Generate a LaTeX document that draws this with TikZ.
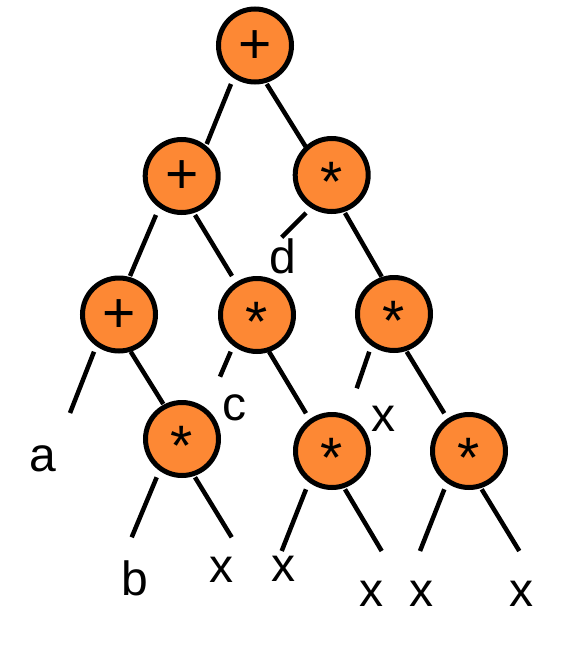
\documentclass[tikz,border=0pt]{standalone}
\usepackage{fontspec}
\setmainfont{Liberation Sans}
\definecolor{nodeorange}{RGB}{253,136,52}
\tikzset{
  opnode/.style={circle, draw=black, line width=5pt, fill=nodeorange, minimum size=73pt, inner sep=0pt,
    font=\fontsize{57pt}{57pt}\selectfont, text depth=0pt},
  plusnode/.style={opnode, text height=35pt},
  starnode/.style={opnode, text height=52pt},
  leaflabel/.style={anchor=base, inner sep=0pt, font=\fontsize{48pt}{48pt}\selectfont},
  edge/.style={line width=4.5pt}
}
\begin{document}
\begin{tikzpicture}[x=1pt,y=-1pt]
\useasboundingbox (0,0) rectangle (564,648);
% operator nodes
\node[plusnode] (n1) at (255,45.5) {+};
\node[plusnode] (n2) at (181.7,176) {+};
\node[starnode] (n3) at (331.7,175) {*};
\node[plusnode] (n4) at (119,314.5) {+};
\node[starnode] (n5) at (257,315) {*};
\node[starnode] (n6) at (394,314) {*};
\node[starnode] (n7) at (182,439) {*};
\node[starnode] (n8) at (332,451) {*};
\node[starnode] (n9) at (469,451) {*};
% leaf labels
\node[leaflabel] (la) at (43.3,471) {a};
\node[leaflabel] (lb) at (135.3,595) {b};
\node[leaflabel] (lx1) at (221.7,582.7) {x};
\node[leaflabel] (lc) at (234,420) {c};
\node[leaflabel] (ld) at (282.5,273.3) {d};
\node[leaflabel] (lx2) at (383.8,431.7) {x};
\node[leaflabel] (lx3) at (283.3,581.7) {x};
\node[leaflabel] (lx4) at (371.3,606.7) {x};
\node[leaflabel] (lx5) at (421.2,606.7) {x};
\node[leaflabel] (lx6) at (521.3,606.7) {x};
% connector end points
\coordinate (e1a) at (231,84);      \coordinate (e1b) at (206.7,144);
\coordinate (e2a) at (266.7,84);    \coordinate (e2b) at (305.7,146.7);
\coordinate (e3a) at (156,215);     \coordinate (e3b) at (130,276);
\coordinate (e4a) at (195,215);     \coordinate (e4b) at (232,276);
\coordinate (e5a) at (306,213);     \coordinate (e5b) at (281.7,237.3);
\coordinate (e6a) at (345,213);     \coordinate (e6b) at (381.7,276.7);
\coordinate (e7a) at (94,351.7);    \coordinate (e7b) at (70,413);
\coordinate (e8a) at (130.7,351.7); \coordinate (e8b) at (163.3,404);
\coordinate (e9a) at (230.7,351.7); \coordinate (e9b) at (220,376.7);
\coordinate (e10a) at (269,351.7);  \coordinate (e10b) at (306,413.3);
\coordinate (e11a) at (369.3,351.7);\coordinate (e11b) at (356.7,388.3);
\coordinate (e12a) at (406.7,351.7);\coordinate (e12b) at (444.3,413.3);
\coordinate (e13a) at (156.7,477.3);\coordinate (e13b) at (131.7,537.3);
\coordinate (e14a) at (195,477.3);  \coordinate (e14b) at (231.7,537.3);
\coordinate (e15a) at (306,489.3);  \coordinate (e15b) at (281.7,551);
\coordinate (e16a) at (345,489.3);  \coordinate (e16b) at (381.7,551);
\coordinate (e17a) at (444.3,489.3);\coordinate (e17b) at (420,551);
\coordinate (e18a) at (481.7,489.3);\coordinate (e18b) at (519.3,551);
\foreach \i in {1,...,18}{
  \draw[edge] (e\i a) -- (e\i b);
}
\end{tikzpicture}
\end{document}
